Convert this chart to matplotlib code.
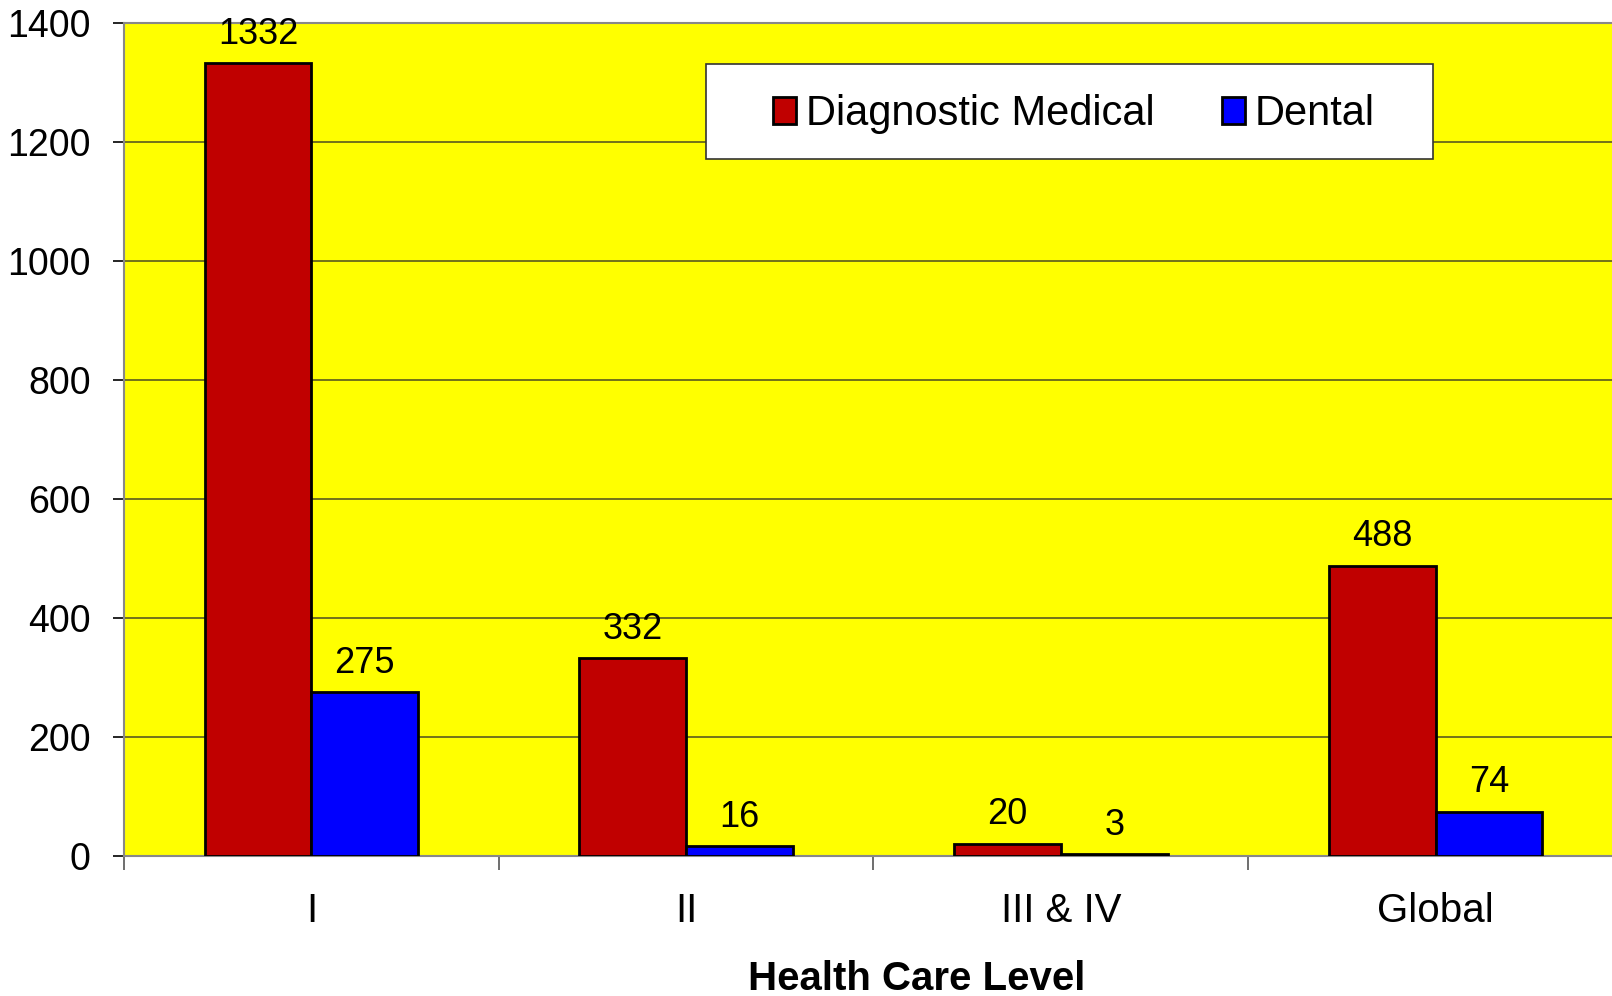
import numpy as np
import matplotlib
matplotlib.use("Agg")
import matplotlib.pyplot as plt
from matplotlib.patches import Rectangle

plt.rcParams['font.family'] = ['Liberation Sans', 'DejaVu Sans']

levels = ["I", "II", "III & IV", "Global"]
medical = [1332, 332, 20, 488]
dental = [275, 16, 3, 74]

W, H = 1612, 996
fig = plt.figure(figsize=(W / 100, H / 100), dpi=100)
# plot area runs past the right edge of the figure, as in the original
left, right, top, bottom = 124, 1623, 23, 856
ax = fig.add_axes([left / W, 1 - bottom / H, (right - left) / W, (bottom - top) / H])
ax.set_facecolor('#ffff00')

x = np.arange(len(levels))
bw = 0.285
b1 = ax.bar(x - bw / 2, medical, bw, color='#c00000', edgecolor='black', linewidth=2, zorder=3,
            label='Diagnostic Medical')
b2 = ax.bar(x + bw / 2, dental, bw, color='#0000ff', edgecolor='black', linewidth=2, zorder=3,
            label='Dental')

for bars, vals in ((b1, medical), (b2, dental)):
    for r, v in zip(bars, vals):
        ax.annotate(str(v), (r.get_x() + r.get_width() / 2, v), xytext=(0, 21),
                    textcoords='offset points', ha='center', va='center', fontsize=26)

ax.set_xlim(-0.5, len(levels) - 0.5)
ax.set_ylim(0, 1400)
ax.set_yticks(range(0, 1401, 200))
ax.yaxis.grid(True, color='#5a5a1e', linewidth=1.2, zorder=1)
ax.tick_params(axis='y', labelsize=27, length=8, width=1.2, pad=16)

ax.set_xticks(np.arange(-0.5, len(levels) - 0.4, 1.0))
ax.set_xticklabels([])
ax.set_xticks(x, minor=True)
ax.set_xticklabels(levels, minor=True, fontsize=29)
ax.tick_params(axis='x', which='major', length=10, width=1.2, color='#555555')
ax.tick_params(axis='x', which='minor', length=0, pad=26)

for s in ('left', 'bottom', 'top'):
    ax.spines[s].set_color('#888888')
    ax.spines[s].set_linewidth(1.5)
ax.spines['right'].set_visible(False)

# white legend box
box = Rectangle((706 / W, 1 - 159 / H), 727 / W, 95 / H, transform=fig.transFigure,
                facecolor='white', edgecolor='#333333', linewidth=1.2, zorder=4)
ax.add_patch(box)
leg = ax.legend(loc='center', bbox_to_anchor=(1074 / W, 1 - 114 / H), bbox_transform=fig.transFigure,
                ncol=2, fontsize=30, frameon=False,
                handlelength=0.55, handleheight=0.6, handletextpad=0.25, columnspacing=1.6,
                borderpad=0)
leg.set_zorder(5)

fig.text(917 / W, 1 - 979 / H, 'Health Care Level', ha='center', va='center',
         fontsize=29, fontweight='bold')

fig.savefig('out.png', dpi=100)
